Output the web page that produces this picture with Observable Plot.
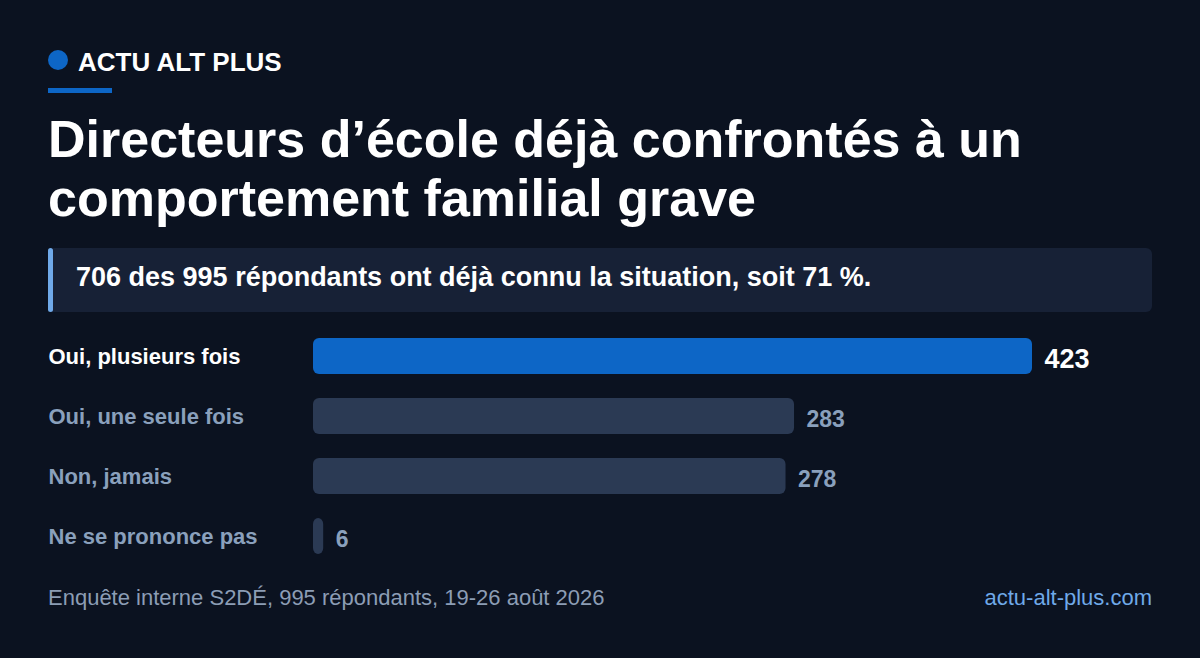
<!DOCTYPE html>
<html>
<head>
<meta charset="utf-8">
<script src="https://cdn.jsdelivr.net/npm/d3@7"></script>
<script src="https://cdn.jsdelivr.net/npm/@observablehq/plot@0.6"></script>
<style>
  html, body { margin: 0; padding: 0; background: #0b1220; }
  body { width: 1200px; height: 658px; overflow: hidden; font-family: "Liberation Sans", Arial, sans-serif; color: #fff; position: relative; }
  .dot { position: absolute; left: 48px; top: 50px; width: 20px; height: 20px; border-radius: 50%; background: #0d66c6; }
  .brand { position: absolute; left: 78px; top: 47px; font-weight: 700; font-size: 26px; line-height: 30px; }
  .rule { position: absolute; left: 48px; top: 88px; width: 64px; height: 5px; background: #0d66c6; }
  h1 { position: absolute; left: 48px; top: 110px; margin: 0; font-size: 52px; line-height: 59px; font-weight: 700; width: 1110px; }
  .callout { position: absolute; left: 48px; top: 248px; width: 1104px; height: 64px; background: #172136; border-radius: 6px; box-sizing: border-box; }
  .callout::before { content: ""; position: absolute; left: 0; top: 0; width: 5px; height: 64px; background: #6fa9e9; border-radius: 3px; }
  .callout p { margin: 0; position: absolute; left: 28px; top: 14px; font-size: 27px; font-weight: 700; line-height: 30px; }
  #chart { position: absolute; left: 48px; top: 326px; }
  .foot { position: absolute; top: 585px; font-size: 22px; line-height: 26px; }
  .foot.l { left: 48px; color: #8c9db5; }
  .foot.r { right: 48px; color: #6fa9e9; }
</style>
</head>
<body>
<div class="dot"></div>
<div class="brand">ACTU ALT PLUS</div>
<div class="rule"></div>
<h1>Directeurs d’école déjà confrontés à un comportement familial grave</h1>
<div class="callout"><p>706 des 995 répondants ont déjà connu la situation, soit 71 %.</p></div>
<div id="chart"></div>
<div class="foot l">Enquête interne S2DÉ, 995 répondants, 19-26 août 2026</div>
<div class="foot r">actu-alt-plus.com</div>
<script>
const categories = ["Oui, plusieurs fois", "Oui, une seule fois", "Non, jamais", "Ne se prononce pas"];
const counts = [423, 283, 278, 6];
const highlight = [true, false, false, false];

const data = categories.map((c, i) => ({label: c, value: counts[i], hi: highlight[i]}));
const hiData = data.filter(d => d.hi);
const loData = data.filter(d => !d.hi);

const chart = Plot.plot({
  width: 1104,
  height: 240,
  marginLeft: 265,
  marginRight: 120,
  marginTop: 0,
  marginBottom: 0,
  style: {background: "transparent", fontFamily: "Liberation Sans, Arial, sans-serif", overflow: "visible"},
  x: {domain: [0, 423], axis: null},
  y: {domain: categories, axis: null, paddingInner: 0.4, paddingOuter: 0.2},
  color: {type: "identity"},
  marks: [
    Plot.barX(data, {y: "label", x: "value", fill: d => d.hi ? "#0d66c6" : "#2b3a54", rx: 6}),
    Plot.text(data, {y: "label", text: "label", frameAnchor: "left", dx: -265, textAnchor: "start",
      fill: d => d.hi ? "#ffffff" : "#8aa0bc", fontSize: 22, fontWeight: 700}),
    Plot.text(hiData, {y: "label", x: "value", text: d => String(d.value), dx: 12, dy: 3, textAnchor: "start",
      fill: "#ffffff", fontSize: 27, fontWeight: 700}),
    Plot.text(loData, {y: "label", x: "value", text: d => String(d.value), dx: 12, dy: 3, textAnchor: "start",
      fill: "#8aa0bc", fontSize: 23, fontWeight: 700})
  ]
});
document.getElementById("chart").appendChild(chart);
</script>
</body>
</html>
